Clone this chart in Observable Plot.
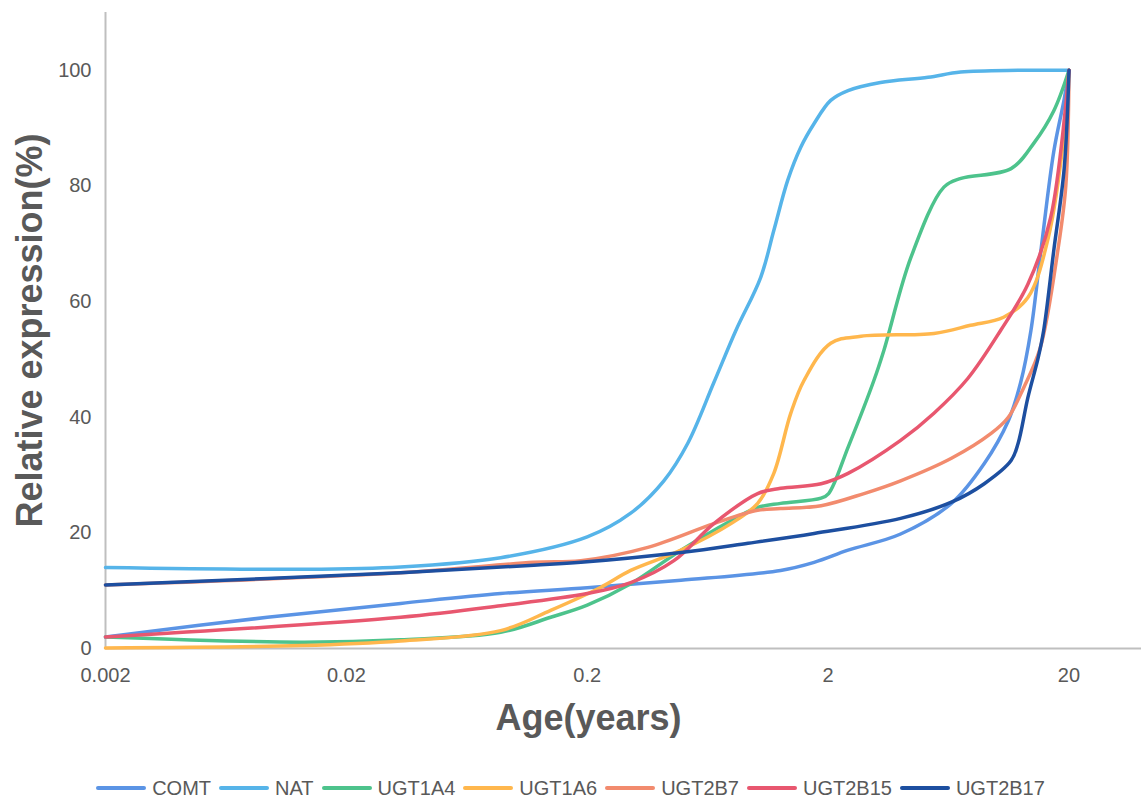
<!DOCTYPE html>
<html>
<head>
<meta charset="utf-8">
<script src="https://cdn.jsdelivr.net/npm/d3@7"></script>
<script src="https://cdn.jsdelivr.net/npm/@observablehq/plot@0.6"></script>
<style>
  body { margin: 0; background: #fff; font-family: "Liberation Sans", Arial, sans-serif; }
  #legend { display: flex; justify-content: center; align-items: center; height: 31px; padding-top: 5px; box-sizing: border-box; font-size: 20px; color: #595959; }
  .item { display: flex; align-items: center; margin: 0 4px; }
  .sw { width: 50px; height: 4px; border-radius: 2px; margin-right: 6px; }
</style>
</head>
<body>
<div id="chart"></div>
<div id="legend"></div>
<script>
const seriesNames = ["COMT", "NAT", "UGT1A4", "UGT1A6", "UGT2B7", "UGT2B15", "UGT2B17"];
const seriesColors = ["#5B94E5", "#56B4E9", "#4DC38C", "#FFB74D", "#F28B6E", "#E8576F", "#1D4FA0"];
const xTicks = [0.002, 0.02, 0.2, 2, 20];
const yTicks = [0, 20, 40, 60, 80, 100];

// [age (years), relative expression (%)]
const COMT = [[0.002,2],[0.0094,5.4],[0.0336,7.8],[0.0874,9.5],[0.2,10.5],[0.49,11.8],[1.27,13.5],[1.75,14.9],[2.42,17],[4.0,19.8],[6.5,25.1],[8.9,32],[11.2,39.4],[12.6,46],[13.9,55],[15.3,68.9],[17.3,86],[19.1,95],[20,100]];
const NAT = [[0.002,14],[0.0129,13.7],[0.0336,14.1],[0.0874,15.7],[0.2,19.3],[0.303,23.4],[0.416,29],[0.523,35.5],[0.671,46],[0.828,55],[1.05,64.2],[1.19,72.3],[1.36,81],[1.54,86.7],[1.75,90.8],[2.05,94.8],[2.42,96.5],[3.3,97.9],[5.2,98.8],[7.1,99.7],[12.3,100],[20,100]];
const UGT1A4 = [[0.002,2],[0.0129,1.1],[0.0336,1.5],[0.0874,2.8],[0.141,5.4],[0.2,7.5],[0.303,11.2],[0.49,17],[0.79,22.1],[1.02,24.4],[1.27,25.1],[1.87,26],[2.01,26.8],[2.42,34.8],[3.10,46.4],[3.41,51.6],[4.41,67.6],[6.05,79.8],[7.12,81.3],[11.5,83],[14.3,87.4],[17.3,93],[20,100]];
const UGT1A6 = [[0.002,0.1],[0.0129,0.5],[0.0336,1.3],[0.0874,3.1],[0.141,6.6],[0.228,10.6],[0.303,13.5],[0.49,17],[0.79,21.6],[1.02,25.1],[1.19,30.3],[1.40,40.7],[1.59,46.4],[2.05,52.8],[2.74,54],[5.5,54.5],[7.8,55.9],[10.7,57.3],[13.5,60.7],[16.4,71],[19.1,89],[20,100]];
const UGT2B7 = [[0.002,11],[0.0336,13.1],[0.12,14.9],[0.188,15.2],[0.357,17.5],[0.671,21.6],[1.02,23.9],[1.27,24.2],[1.87,24.7],[2.82,26.8],[4.0,29],[6.5,32.9],[9.5,37.2],[11.2,40],[13.0,45.2],[15.2,52],[18,69],[19.4,80],[20,100]];
const UGT2B15 = [[0.002,2],[0.0336,5.4],[0.0874,7.4],[0.2,9.5],[0.303,11.4],[0.458,15.2],[0.671,21.6],[1.02,26.8],[1.27,27.7],[1.87,28.5],[2.42,30.3],[4.0,36],[5.5,40.7],[7.6,46.7],[10.4,55],[13.5,63],[16.8,74.6],[20,100]];
const UGT2B17 = [[0.002,11],[0.0336,13.1],[0.12,14.4],[0.188,14.9],[0.49,16.6],[0.93,18.2],[1.75,19.9],[4.0,22.5],[6.5,25.3],[8.9,28.5],[11.5,32.5],[12.3,35.5],[13.5,43.4],[14.9,50.3],[15.7,55],[17.3,68.9],[19.1,83],[20,100]];

const seriesData = [COMT, NAT, UGT1A4, UGT1A6, UGT2B7, UGT2B15, UGT2B17];

const lineMarks = seriesData.map((arr, i) =>
  Plot.line(arr, {x: d => d[0], y: d => d[1], stroke: seriesColors[i], strokeWidth: 3.5, curve: "catmull-rom"})
);

const chart = Plot.plot({
  width: 1141,
  height: 770,
  marginLeft: 105,
  marginRight: 0,
  marginTop: 12,
  marginBottom: 122,
  style: {fontFamily: "'Liberation Sans', Arial, sans-serif", fontSize: "20px", color: "#595959", background: "#fff"},
  x: {type: "log", domain: [0.002, 40]},
  y: {domain: [0, 110]},
  marks: [
    Plot.ruleY([0], {stroke: "#bfbfbf", strokeWidth: 2}),
    Plot.ruleX([0.002], {stroke: "#bfbfbf", strokeWidth: 2}),
    Plot.axisX({ticks: xTicks, tickSize: 0, tickPadding: 19, tickFormat: d => String(d), fontSize: 20, label: null}),
    Plot.axisY({ticks: yTicks, tickSize: 0, tickPadding: 14, fontSize: 20, label: null}),
    ...lineMarks,
    Plot.text(["Age(years)"], {text: d => d, frameAnchor: "bottom", dy: 70, dx: -35, fontSize: 36, fontWeight: "bold", fill: "#595959", lineAnchor: "middle"}),
    Plot.text(["Relative expression(%)"], {text: d => d, frameAnchor: "left", dx: -75, rotate: -90, textAnchor: "middle", lineAnchor: "middle", fontSize: 36, fontWeight: "bold", fill: "#595959"})
  ]
});
document.getElementById("chart").appendChild(chart);

const legend = document.getElementById("legend");
seriesNames.forEach((name, i) => {
  const item = document.createElement("div");
  item.className = "item";
  const sw = document.createElement("div");
  sw.className = "sw";
  sw.style.background = seriesColors[i];
  const label = document.createElement("span");
  label.textContent = name;
  item.appendChild(sw);
  item.appendChild(label);
  legend.appendChild(item);
});
</script>
</body>
</html>
